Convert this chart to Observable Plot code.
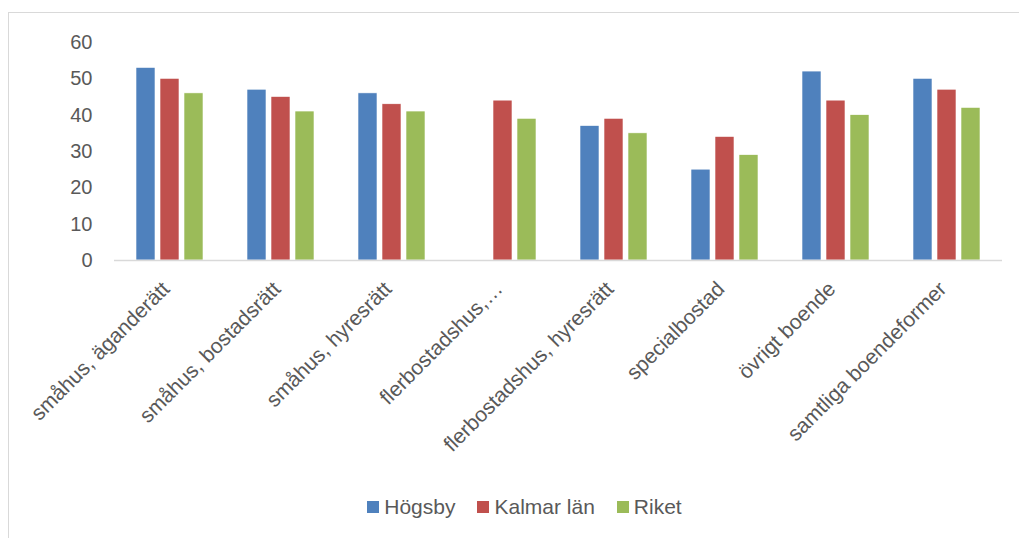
<!DOCTYPE html>
<html><head><meta charset="utf-8">
<script src="https://cdn.jsdelivr.net/npm/d3@7"></script>
<script src="https://cdn.jsdelivr.net/npm/@observablehq/plot@0.6"></script>
<style>
html,body{margin:0;background:#fff;font-family:"Liberation Sans",Arial,sans-serif;overflow:hidden;width:1019px;height:538px;}
#frame{position:absolute;left:8px;top:12px;width:1100px;height:600px;border-left:1.5px solid #d9d9d9;border-top:1.5px solid #d9d9d9;box-sizing:border-box;}
#chart{position:absolute;left:0;top:0;}
#legend{position:absolute;left:0;top:495px;width:1019px;display:flex;justify-content:center;gap:22px;font-size:21px;color:#595959;padding-left:30px;box-sizing:border-box;}
#legend span{display:flex;align-items:center;}
#legend i{display:inline-block;width:12px;height:12px;margin-right:5px;}
</style></head>
<body>
<div id="frame"></div>
<div id="chart"></div>
<div id="legend"></div>
<script>
const categories = ["småhus, äganderätt","småhus, bostadsrätt","småhus, hyresrätt","flerbostadshus,…","flerbostadshus, hyresrätt","specialbostad","övrigt boende","samtliga boendeformer"];
const series = ["Högsby","Kalmar län","Riket"];
const hogsby = [53,47,46,null,37,25,52,50];
const kalmar = [50,45,43,44,39,34,44,47];
const riket = [46,41,41,39,35,29,40,42];
const colors = ["#4F81BD","#C0504D","#9BBB59"];
const yTicks = [0,10,20,30,40,50,60];

const values = [hogsby, kalmar, riket];
const data = [];
categories.forEach((c,i)=>series.forEach((s,j)=>{
  if (values[j][i] != null) data.push({cat:c, series:s, value:values[j][i]});
}));

const plot = Plot.plot({
  width: 1019,
  height: 490,
  marginLeft: 113,
  marginRight: 16,
  marginTop: 42,
  marginBottom: 230,
  style: {fontFamily: '"Liberation Sans",Arial,sans-serif', color:"#595959", background:"transparent", overflow:"visible"},
  fx: {domain: categories, padding: 0, label: null},
  x: {domain: series, paddingInner: 0.2, paddingOuter: 0.87, axis: null},
  y: {domain: [0,60], label: null, axis: null},
  color: {domain: series, range: colors},
  marks: [
    Plot.gridY(yTicks, {stroke:"#d9d9d9", strokeOpacity:1, strokeWidth:1.5, x1:113, x2:1003, facet:"exclude"}),
    Plot.axisY({ticks: yTicks, tickSize: 0, tickPadding: 22, fontSize: 20, label: null, facetAnchor: "left"}),
    Plot.barY(data, {fx:"cat", x:"series", y:"value", fill:"series", stroke:"white", strokeWidth:0.6}),
    Plot.axisFx({anchor:"bottom", tickRotate:-45, tickSize:0, tickPadding:25, dx:-4, fontSize:21, label:null}),
    Plot.ruleY([0], {stroke:"#d9d9d9", strokeWidth:1.5})
  ]
});
document.getElementById("chart").appendChild(plot);

const lg = document.getElementById("legend");
series.forEach((s,i)=>{
  const sp = document.createElement("span");
  sp.innerHTML = `<i style="background:${colors[i]}"></i>${s}`;
  lg.appendChild(sp);
});
</script>
</body></html>
